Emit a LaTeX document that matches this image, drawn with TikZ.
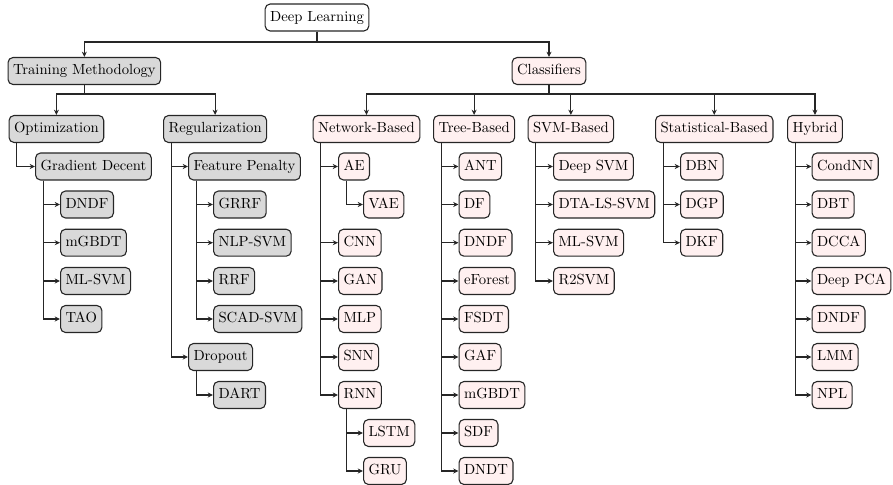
\documentclass[tikz,border=0pt]{standalone}
\usetikzlibrary{arrows.meta}
\begin{document}
\begin{tikzpicture}[x=0.682pt,y=-0.682pt,
 box/.style={draw=black!85, line width=0.75pt, rounded corners=3.4pt, inner xsep=3.4pt, inner ysep=0pt, text height=6.9pt, text depth=1.95pt, minimum height=18.4pt, anchor=west},
 gbox/.style={box, fill=black!15},
 pbox/.style={box, fill=red!6},
 conn/.style={draw=black!85, line width=0.75pt, -{Stealth[length=3.6pt,width=3.4pt]}},
 kid/.style={conn, to path={([xshift=5.5pt]\tikztostart.south west) |- (\tikztotarget.west)}}
]
\useasboundingbox (0,0) rectangle (893,484);
% top levels
\node[box, anchor=center, fill=white] (root) at (317,17.5) {Deep Learning};
\node[gbox] (tm) at (7.5,71) {Training Methodology};
\node[pbox, anchor=center] (cls) at (549,71) {Classifiers};
\draw[conn] (root.south) -- ++(0,10.5) -| (tm.north);
\draw[conn] (root.south) -- ++(0,10.5) -| (cls.north);
% training methodology
\node[gbox] (opt) at (8.5,129) {Optimization};
\node[gbox] (reg) at (163,129) {Regularization};
\draw[conn] (tm.south) -- ++(0,9) -| (opt.north);
\draw[conn] (tm.south) -- ++(0,9) -| (reg.north);
\node[gbox] (gd) at (35,166.5) {Gradient Decent};
\draw[kid] (opt) to (gd);
\node[gbox] (gd1) at (60,204.5) {DNDF};
\node[gbox] (gd2) at (60,242.7) {mGBDT};
\node[gbox] (gd3) at (60,281) {ML-SVM};
\node[gbox] (gd4) at (60,319) {TAO};
\foreach \c in {gd1,gd2,gd3,gd4} \draw[kid] (gd) to (\c);
\node[gbox] (fp) at (188,166.5) {Feature Penalty};
\node[gbox] (dr) at (188,357) {Dropout};
\draw[kid] (reg) to (fp);
\draw[kid] (reg) to (dr);
\node[gbox] (fp1) at (213,204.5) {GRRF};
\node[gbox] (fp2) at (213,242.7) {NLP-SVM};
\node[gbox] (fp3) at (213,281) {RRF};
\node[gbox] (fp4) at (213,319) {SCAD-SVM};
\foreach \c in {fp1,fp2,fp3,fp4} \draw[kid] (fp) to (\c);
\node[gbox] (dr1) at (213,395) {DART};
\draw[kid] (dr) to (dr1);
% classifiers
\node[pbox] (nb) at (312.5,129) {Network-Based};
\node[pbox] (tb) at (433,129) {Tree-Based};
\node[pbox] (sb) at (527.5,129) {SVM-Based};
\node[pbox] (st) at (655,129) {Statistical-Based};
\node[pbox] (hy) at (787,129) {Hybrid};
\foreach \c in {nb,tb,sb,st,hy} \draw[conn] (cls.south) -- ++(0,9) -| (\c.north);
% network based
\node[pbox] (ae) at (338,166.5) {AE};
\node[pbox] (vae) at (363,204.5) {VAE};
\node[pbox] (cnn) at (338,242.7) {CNN};
\node[pbox] (gan) at (338,281) {GAN};
\node[pbox] (mlp) at (338,319) {MLP};
\node[pbox] (snn) at (338,357) {SNN};
\node[pbox] (rnn) at (338,395) {RNN};
\node[pbox] (lstm) at (363,433) {LSTM};
\node[pbox] (gru) at (363,471) {GRU};
\foreach \c in {ae,cnn,gan,mlp,snn,rnn} \draw[kid] (nb) to (\c);
\draw[kid] (ae) to (vae);
\draw[kid] (rnn) to (lstm);
\draw[kid] (rnn) to (gru);
% tree based
\node[pbox] (t1) at (458.5,166.5) {ANT};
\node[pbox] (t2) at (458.5,204.5) {DF};
\node[pbox] (t3) at (458.5,242.7) {DNDF};
\node[pbox] (t4) at (458.5,281) {eForest};
\node[pbox] (t5) at (458.5,319) {FSDT};
\node[pbox] (t6) at (458.5,357) {GAF};
\node[pbox] (t7) at (458.5,395) {mGBDT};
\node[pbox] (t8) at (458.5,433) {SDF};
\node[pbox] (t9) at (458.5,471) {DNDT};
\foreach \c in {t1,t2,t3,t4,t5,t6,t7,t8,t9} \draw[kid] (tb) to (\c);
% svm based
\node[pbox] (s1) at (553,166.5) {Deep SVM};
\node[pbox] (s2) at (553,204.5) {DTA-LS-SVM};
\node[pbox] (s3) at (553,242.7) {ML-SVM};
\node[pbox] (s4) at (553,281) {R2SVM};
\foreach \c in {s1,s2,s3,s4} \draw[kid] (sb) to (\c);
% statistical
\node[pbox] (q1) at (680,166.5) {DBN};
\node[pbox] (q2) at (680,204.5) {DGP};
\node[pbox] (q3) at (680,242.7) {DKF};
\foreach \c in {q1,q2,q3} \draw[kid] (st) to (\c);
% hybrid
\node[pbox] (h1) at (811.5,166.5) {CondNN};
\node[pbox] (h2) at (811.5,204.5) {DBT};
\node[pbox] (h3) at (811.5,242.7) {DCCA};
\node[pbox] (h4) at (811.5,281) {Deep PCA};
\node[pbox] (h5) at (811.5,319) {DNDF};
\node[pbox] (h6) at (811.5,357) {LMM};
\node[pbox] (h7) at (811.5,395) {NPL};
\foreach \c in {h1,h2,h3,h4,h5,h6,h7} \draw[kid] (hy) to (\c);
\end{tikzpicture}
\end{document}
